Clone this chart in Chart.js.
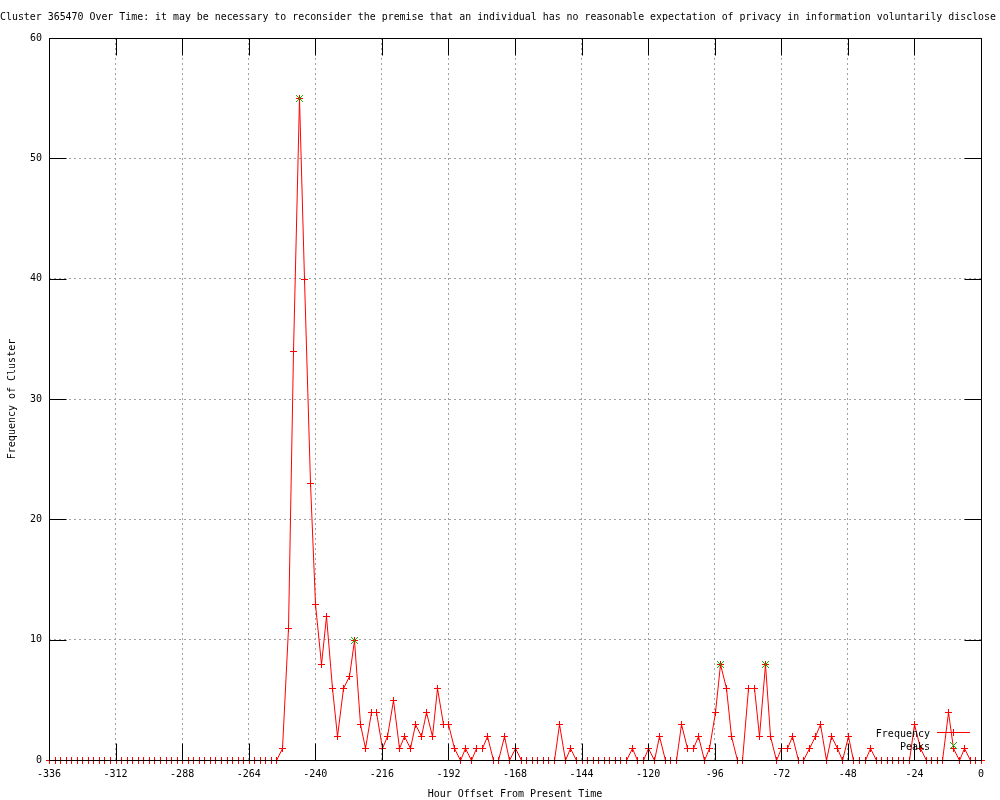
<!DOCTYPE html>
<html>
<head>
<meta charset="utf-8">
<script src="https://cdn.jsdelivr.net/npm/chart.js@4.4.0/dist/chart.umd.min.js"></script>
<style>
  html, body { margin: 0; padding: 0; background: #fff; }
</style>
</head>
<body>
<canvas id="chart" width="1000" height="800"></canvas>
<script>
const titleText = 'Cluster 365470 Over Time: it may be necessary to reconsider the premise that an individual has no reasonable expectation of privacy in information voluntarily disclose';
const xTitle = 'Hour Offset From Present Time';
const yTitle = 'Frequency of Cluster';

// hour offsets, one sample every 2 hours
const hours = [
  -336, -334, -332, -330, -328, -326, -324, -322, -320, -318, -316, -314,
  -312, -310, -308, -306, -304, -302, -300, -298, -296, -294, -292, -290,
  -288, -286, -284, -282, -280, -278, -276, -274, -272, -270, -268, -266,
  -264, -262, -260, -258, -256, -254, -252, -250, -248, -246, -244, -242,
  -240, -238, -236, -234, -232, -230, -228, -226, -224, -222, -220, -218,
  -216, -214, -212, -210, -208, -206, -204, -202, -200, -198, -196, -194,
  -192, -190, -188, -186, -184, -182, -180, -178, -176, -174, -172, -170,
  -168, -166, -164, -162, -160, -158, -156, -154, -152, -150, -148, -146,
  -144, -142, -140, -138, -136, -134, -132, -130, -128, -126, -124, -122,
  -120, -118, -116, -114, -112, -110, -108, -106, -104, -102, -100, -98,
  -96, -94, -92, -90, -88, -86, -84, -82, -80, -78, -76, -74,
  -72, -70, -68, -66, -64, -62, -60, -58, -56, -54, -52, -50,
  -48, -46, -44, -42, -40, -38, -36, -34, -32, -30, -28, -26,
  -24, -22, -20, -18, -16, -14, -12, -10, -8, -6, -4, -2,
  0
];

const frequency = [
  0, 0, 0, 0, 0, 0, 0, 0, 0, 0, 0, 0,
  0, 0, 0, 0, 0, 0, 0, 0, 0, 0, 0, 0,
  0, 0, 0, 0, 0, 0, 0, 0, 0, 0, 0, 0,
  0, 0, 0, 0, 0, 0, 1, 11, 34, 55, 40, 23,
  13, 8, 12, 6, 2, 6, 7, 10, 3, 1, 4, 4,
  1, 2, 5, 1, 2, 1, 3, 2, 4, 2, 6, 3,
  3, 1, 0, 1, 0, 1, 1, 2, 0, 0, 2, 0,
  1, 0, 0, 0, 0, 0, 0, 0, 3, 0, 1, 0,
  0, 0, 0, 0, 0, 0, 0, 0, 0, 1, 0, 0,
  1, 0, 2, 0, 0, 0, 3, 1, 1, 2, 0, 1,
  4, 8, 6, 2, 0, 0, 6, 6, 2, 8, 2, 0,
  1, 1, 2, 0, 0, 1, 2, 3, 0, 2, 1, 0,
  2, 0, 0, 0, 1, 0, 0, 0, 0, 0, 0, 0,
  3, 1, 0, 0, 0, 0, 4, 1, 0, 1, 0, 0,
  0
];

const peakHours = [-246, -226, -94, -78];
const peakValues = [55, 10, 8, 8];

const xTicks = { min: -336, max: 0, step: 24 };
const yTicks = { min: 0, max: 60, step: 10 };

const MONO = "'DejaVu Sans Mono', 'Liberation Mono', monospace";
const RED = '#ff0000';
const GREEN = '#00c000';
const TICK_LEN = 17;

// 7x7 pixel glyphs like gnuplot's point types 1 (+) and 2 (x)
function plusGlyph(color) {
  const c = document.createElement('canvas');
  c.width = 7; c.height = 7;
  const g = c.getContext('2d');
  g.fillStyle = color;
  g.fillRect(3, 0, 1, 7);
  g.fillRect(0, 3, 7, 1);
  return c;
}
function crossGlyph(color) {
  const c = document.createElement('canvas');
  c.width = 7; c.height = 7;
  const g = c.getContext('2d');
  g.fillStyle = color;
  for (let k = 0; k < 7; k++) {
    g.fillRect(k, k, 1, 1);
    g.fillRect(6 - k, k, 1, 1);
  }
  return c;
}
const plusMark = plusGlyph(RED);
const crossMark = crossGlyph(GREEN);

// title drawn flush left like the original (it is wider than the plot)
const headPlugin = {
  id: 'head',
  afterDraw(chart) {
    const ctx = chart.ctx;
    ctx.save();
    ctx.font = '10px ' + MONO;
    const w = ctx.measureText(titleText).width;
    const size = 10 * Math.min(1, 998 / w);
    ctx.font = size + 'px ' + MONO;
    ctx.fillStyle = '#000';
    ctx.textBaseline = 'middle';
    ctx.textAlign = 'left';
    ctx.fillText(titleText, 0, 17);
    ctx.restore();
  }
};

// gnuplot draws on whole pixels: snap the points the scales placed
const snapPlugin = {
  id: 'snap',
  afterDatasetsUpdate(chart) {
    chart.data.datasets.forEach((ds, i) => {
      chart.getDatasetMeta(i).data.forEach(p => {
        p.x = Math.round(p.x) + 0.5;
        p.y = Math.round(p.y) + 0.5;
      });
    });
  }
};

// border box with inward (mirrored) tick marks
const framePlugin = {
  id: 'frame',
  afterDatasetsDraw(chart) {
    const { ctx, chartArea: a, scales } = chart;
    const L = Math.round(a.left) + 0.5, R = Math.round(a.right) + 0.5;
    const T = Math.round(a.top) + 0.5, B = Math.round(a.bottom) + 0.5;
    ctx.save();
    ctx.strokeStyle = '#000';
    ctx.lineWidth = 1;
    ctx.beginPath();
    ctx.rect(L, T, R - L, B - T);
    scales.x.ticks.forEach(t => {
      const px = Math.round(scales.x.getPixelForValue(t.value)) + 0.5;
      ctx.moveTo(px, B); ctx.lineTo(px, B - TICK_LEN);
      ctx.moveTo(px, T); ctx.lineTo(px, T + TICK_LEN);
    });
    scales.y.ticks.forEach(t => {
      const py = Math.round(scales.y.getPixelForValue(t.value)) + 0.5;
      ctx.moveTo(L, py); ctx.lineTo(L + TICK_LEN, py);
      ctx.moveTo(R, py); ctx.lineTo(R - TICK_LEN, py);
    });
    ctx.stroke();
    ctx.restore();
  }
};

// key in the lower right corner of the plot
const keyPlugin = {
  id: 'key',
  afterDraw(chart) {
    const { ctx, chartArea: a } = chart;
    const sets = chart.data.datasets;
    const B = Math.round(a.bottom), Rt = Math.round(a.right);
    const textX = Rt - 51;
    const x0 = Rt - 44, x1 = Rt - 11, xm = Rt - 27.5;
    const rowFreq = B - 27.5, rowPeak = B - 14.5;
    ctx.save();
    ctx.font = '10px ' + MONO;
    ctx.fillStyle = '#000';
    ctx.textAlign = 'right';
    ctx.textBaseline = 'middle';
    ctx.fillText(sets[0].label, textX, rowFreq + 1.5);
    ctx.fillText(sets[1].label, textX, rowPeak + 1.5);
    ctx.lineWidth = 1;
    ctx.strokeStyle = RED;
    ctx.beginPath();
    ctx.moveTo(x0, rowFreq); ctx.lineTo(x1, rowFreq);
    ctx.stroke();
    Chart.helpers.drawPoint(ctx, { pointStyle: plusMark, radius: 3.5, borderWidth: 1 }, xm, rowFreq);
    Chart.helpers.drawPoint(ctx, { pointStyle: crossMark, radius: 3.5, borderWidth: 1 }, xm, rowPeak);
    ctx.restore();
  }
};

const freqPoints = hours.map((h, i) => ({ x: h, y: frequency[i] }));
const peakPoints = peakHours.map((h, i) => ({ x: h, y: peakValues[i] }));

new Chart(document.getElementById('chart'), {
  type: 'line',
  data: {
    datasets: [
      {
        label: 'Frequency',
        data: freqPoints,
        borderColor: RED,
        borderWidth: 1,
        pointStyle: plusMark,
        pointRadius: 3.5,
        pointBorderColor: RED,
        pointBackgroundColor: RED,
        pointBorderWidth: 1,
        tension: 0,
        fill: false,
        clip: false,
        order: 1
      },
      {
        label: 'Peaks',
        data: peakPoints,
        showLine: false,
        pointStyle: crossMark,
        pointRadius: 3.5,
        pointBorderColor: GREEN,
        pointBackgroundColor: GREEN,
        pointBorderWidth: 1,
        clip: false,
        order: 0
      }
    ]
  },
  options: {
    responsive: false,
    animation: false,
    events: [],
    layout: { padding: { top: 38, right: 19, left: 0, bottom: 0 } },
    plugins: {
      legend: { display: false },
      title: { display: false },
      tooltip: { enabled: false }
    },
    scales: {
      x: {
        type: 'linear',
        min: xTicks.min,
        max: xTicks.max,
        afterFit: s => { s.height = 40; },
        ticks: { stepSize: xTicks.step, color: '#000', padding: 8, maxRotation: 0, font: { family: MONO, size: 10 } },
        grid: { color: '#a0a0a0', drawTicks: false },
        border: { display: false, dash: [2, 3] },
        title: { display: true, text: xTitle, color: '#000', font: { family: MONO, size: 10 }, padding: { top: 0, bottom: 0 } }
      },
      y: {
        min: yTicks.min,
        max: yTicks.max,
        afterFit: s => { s.width = 49; },
        ticks: { stepSize: yTicks.step, color: '#000', padding: 7, font: { family: MONO, size: 10 } },
        grid: { color: '#a0a0a0', drawTicks: false },
        border: { display: false, dash: [2, 3] },
        title: { display: true, text: yTitle, color: '#000', font: { family: MONO, size: 10 }, padding: { top: 6, bottom: 0 } }
      }
    }
  },
  plugins: [snapPlugin, headPlugin, framePlugin, keyPlugin]
});
</script>
</body>
</html>
